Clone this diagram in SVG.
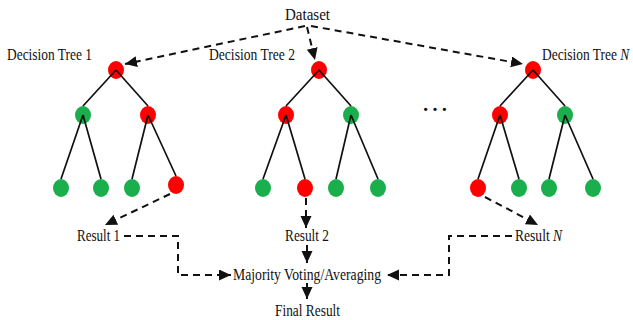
<svg xmlns="http://www.w3.org/2000/svg" width="633" height="320" viewBox="0 0 633 320">
<defs>
<style>
text{font-family:"Liberation Serif","Times New Roman",serif;font-size:17px;fill:#111}
.r{fill:#fe0000}
.g{fill:#1aaf4c}
.e{stroke:#111;stroke-width:1.7;fill:none}
.d{stroke:#111;stroke-width:2;fill:none;stroke-dasharray:7 5}
.s{stroke:#111;stroke-width:2;fill:none}
.a{marker-end:url(#ah)}
</style>
<marker id="ah" markerUnits="userSpaceOnUse" markerWidth="13" markerHeight="12" refX="12" refY="5.5" orient="auto">
<path d="M0,0 L12,5.5 L0,11 z" fill="#111"/>
</marker>
</defs>
<rect width="633" height="320" fill="#fff"/>

<g id="dataset"><text x="285" y="20" textLength="45" lengthAdjust="spacingAndGlyphs">Dataset</text></g>

<g id="tree1">
<text x="7" y="60" textLength="85" lengthAdjust="spacingAndGlyphs">Decision Tree 1</text>
<ellipse class="r" cx="116" cy="70" rx="8" ry="9"/>
<ellipse class="g" cx="83" cy="115" rx="8" ry="9"/>
<ellipse class="r" cx="148" cy="115" rx="8" ry="9"/>
<ellipse class="g" cx="61" cy="188" rx="8" ry="9"/>
<ellipse class="g" cx="101" cy="188" rx="8" ry="9"/>
<ellipse class="g" cx="132" cy="188" rx="8" ry="9"/>
<ellipse class="r" cx="176" cy="185" rx="8" ry="9"/>
<path class="e" d="M116,70 L83,106 M116,70 L148,106 M83,115 L61,179 M83,115 L101,179 M148,115 L132,179 M148,115 L176,176"/>
</g>

<g id="tree2">
<text x="209" y="60" textLength="86" lengthAdjust="spacingAndGlyphs">Decision Tree 2</text>
<ellipse class="r" cx="319" cy="70" rx="8" ry="9"/>
<ellipse class="r" cx="286" cy="115" rx="8" ry="9"/>
<ellipse class="g" cx="351" cy="115" rx="8" ry="9"/>
<ellipse class="g" cx="263" cy="188" rx="8" ry="9"/>
<ellipse class="r" cx="305" cy="188" rx="8" ry="9"/>
<ellipse class="g" cx="336" cy="188" rx="8" ry="9"/>
<ellipse class="g" cx="378" cy="188" rx="8" ry="9"/>
<path class="e" d="M319,70 L286,106 M319,70 L351,106 M286,115 L263,179 M286,115 L305,179 M351,115 L336,179 M351,115 L378,179"/>
</g>

<g id="ellipsis"><text x="435" y="111" text-anchor="middle" style="font-size:28px">…</text></g>

<g id="treeN">
<text transform="translate(542,60) scale(0.79,1)">Decision Tree <tspan font-style="italic">N</tspan></text>
<ellipse class="r" cx="533" cy="70" rx="8" ry="9"/>
<ellipse class="r" cx="500" cy="115" rx="8" ry="9"/>
<ellipse class="g" cx="565" cy="115" rx="8" ry="9"/>
<ellipse class="r" cx="478" cy="188" rx="8" ry="9"/>
<ellipse class="g" cx="519" cy="188" rx="8" ry="9"/>
<ellipse class="g" cx="549" cy="188" rx="8" ry="9"/>
<ellipse class="g" cx="593" cy="188" rx="8" ry="9"/>
<path class="e" d="M533,70 L500,106 M533,70 L565,106 M500,115 L478,179 M500,115 L519,179 M565,115 L549,179 M565,115 L593,179"/>
</g>

<g id="result1"><text x="77" y="241" textLength="43" lengthAdjust="spacingAndGlyphs">Result 1</text></g>
<g id="result2"><text x="285" y="241" textLength="44" lengthAdjust="spacingAndGlyphs">Result 2</text></g>
<g id="resultN"><text transform="translate(515,241) scale(0.8,1)">Result <tspan font-style="italic">N</tspan></text></g>
<g id="majority"><text x="233" y="280" textLength="148" lengthAdjust="spacingAndGlyphs">Majority Voting/Averaging</text></g>
<g id="final"><text x="275" y="316" textLength="65" lengthAdjust="spacingAndGlyphs">Final Result</text></g>

<g id="connectors">
<path class="d a" d="M305,26 L125,64"/>
<path class="d a" d="M307,27 L315,60"/>
<path class="d a" d="M311,26 L523,64"/>
<path class="d a" d="M170,194 L105,225"/>
<path class="d a" d="M306,198 L306,228"/>
<path class="d a" d="M485,197 L538,225"/>
<path class="s a" d="M307,245 L307,263"/>
<path class="s a" d="M307,283 L307,299"/>
<path class="d a" d="M124,236 H178 V275 H231"/>
<path class="d a" d="M512,236 H449 V275 H387"/>
</g>
</svg>
